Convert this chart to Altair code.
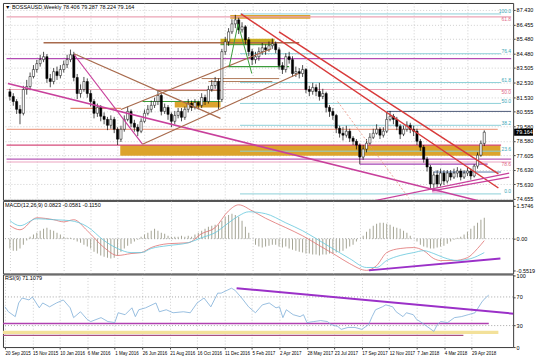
import altair as alt
import pandas as pd

# ---------------- data ----------------
START = pd.Timestamp("2015-09-20")   # week 0

TITLE = "\u25bc BOSSAUSD,Weekly  78.406 79.287 78.224 79.164"
MACD_TITLE = "MACD(12,26,9) 0.0823 -0.0581 -0.1150"
RSI_TITLE = "RSI(9) 71.1079"

OPEN = [81.90, 81.58, 81.24, 80.71, 80.44, 82.05, 82.25, 82.93, 83.40, 83.80,
        84.07, 84.27, 82.79, 82.59, 83.26, 82.99, 83.40, 83.73, 84.07, 84.40,
        82.86, 81.78, 82.05, 82.59, 81.78, 81.24, 80.44, 80.84, 80.24, 80.03,
        79.63, 80.03, 79.36, 78.69, 79.36, 80.03, 80.57, 79.77, 79.50, 79.23,
        79.90, 80.44, 80.71, 80.98, 81.24, 81.65, 80.57, 80.84, 80.37, 79.90,
        80.30, 80.57, 80.17, 80.71, 81.11, 80.84, 81.18, 80.98, 81.51, 81.24,
        82.05, 82.32, 82.59, 81.38, 84.61, 85.28, 85.95, 86.49, 86.76, 86.09,
        86.29, 85.41, 84.61, 84.07, 84.27, 84.61, 84.87, 84.74, 85.01, 85.14,
        84.74, 83.67, 83.40, 84.27, 84.07, 83.13, 83.26, 83.13, 83.40, 82.05,
        81.92, 82.19, 81.92, 81.58, 81.78, 80.84, 80.57, 80.30, 79.43, 79.09,
        78.96, 79.23, 78.76, 78.55, 78.29, 77.48, 78.02, 78.42, 78.82, 79.09,
        79.36, 78.96, 79.23, 80.03, 80.24, 80.03, 79.56, 79.03, 79.36, 79.63,
        79.36, 79.23, 78.55, 78.15, 77.34, 76.81, 75.66, 76.27, 75.66, 76.40,
        75.86, 76.40, 76.13, 76.40, 76.54, 76.13, 76.40, 76.54, 76.20, 76.87,
        77.61, 78.406]
HIGH = [82.10, 81.80, 81.40, 81.00, 82.30, 82.70, 83.20, 83.70, 84.05, 84.40,
        84.60, 84.45, 83.10, 83.50, 83.60, 83.70, 84.00, 84.40, 84.75, 84.60,
        83.10, 82.40, 82.90, 82.80, 82.00, 81.40, 81.10, 81.00, 80.50, 80.20,
        80.30, 80.20, 79.50, 79.60, 80.30, 80.90, 80.70, 80.00, 79.70, 80.10,
        80.70, 81.00, 81.30, 81.50, 82.00, 81.80, 81.10, 81.00, 80.50, 80.60,
        80.80, 80.80, 80.90, 81.40, 81.30, 81.40, 81.30, 81.80, 81.70, 82.30,
        82.70, 82.90, 82.80, 84.80, 85.60, 86.20, 86.80, 87.10, 86.90, 86.60,
        86.40, 85.60, 84.80, 84.60, 84.90, 85.20, 85.10, 85.30, 85.50, 85.30,
        84.90, 83.90, 84.50, 84.60, 84.30, 83.60, 83.50, 83.70, 83.50, 82.30,
        82.50, 82.40, 82.50, 82.10, 81.90, 81.00, 80.80, 80.40, 79.60, 79.50,
        79.60, 79.40, 78.90, 78.70, 78.40, 78.30, 78.70, 79.10, 79.40, 79.70,
        79.50, 79.50, 80.50, 80.60, 80.40, 80.20, 79.70, 79.60, 79.90, 79.80,
        79.60, 79.40, 78.70, 78.30, 77.50, 76.95, 76.50, 76.60, 76.70, 76.60,
        76.60, 76.60, 76.70, 76.80, 76.70, 76.60, 76.80, 76.70, 77.00, 77.80,
        78.60, 79.287]
LOW = [81.30, 80.95, 80.40, 79.70, 80.30, 81.70, 82.00, 82.80, 83.20, 83.60,
       83.90, 82.50, 82.20, 82.40, 82.70, 82.80, 83.20, 83.50, 83.90, 82.60,
       81.40, 81.50, 81.90, 81.50, 80.90, 80.10, 80.20, 79.90, 79.70, 79.30,
       79.40, 79.10, 78.30, 78.50, 79.20, 79.90, 79.50, 79.20, 78.90, 79.10,
       79.80, 80.30, 80.50, 80.80, 81.00, 80.30, 80.40, 80.00, 79.50, 79.70,
       80.10, 79.90, 80.00, 80.50, 80.60, 80.70, 80.70, 80.80, 81.00, 81.10,
       81.90, 82.10, 80.70, 81.20, 84.40, 85.00, 85.80, 86.20, 85.80, 85.90,
       85.10, 84.30, 83.70, 83.80, 84.00, 84.40, 84.40, 84.60, 84.80, 84.50,
       83.40, 83.10, 83.20, 83.80, 82.90, 82.90, 82.80, 82.90, 81.80, 81.60,
       81.70, 81.60, 81.30, 81.40, 80.50, 80.20, 80.00, 79.10, 78.80, 78.60,
       78.80, 78.50, 78.30, 78.00, 77.00, 77.30, 77.80, 78.30, 78.70, 79.00,
       78.70, 78.80, 79.10, 79.90, 79.70, 79.30, 78.70, 78.90, 79.20, 79.10,
       78.90, 78.30, 77.90, 77.10, 76.50, 75.30, 75.40, 75.40, 75.50, 75.60,
       75.70, 75.90, 76.00, 76.10, 75.90, 76.00, 76.20, 75.95, 76.10, 76.70,
       77.50, 78.224]
CLOSE = [81.58, 81.24, 80.71, 80.44, 82.05, 82.25, 82.93, 83.40, 83.80, 84.07,
         84.27, 82.79, 82.59, 83.26, 82.99, 83.40, 83.73, 84.07, 84.40, 82.86,
         81.78, 82.05, 82.59, 81.78, 81.24, 80.44, 80.84, 80.24, 80.03, 79.63,
         80.03, 79.36, 78.69, 79.36, 80.03, 80.57, 79.77, 79.50, 79.23, 79.90,
         80.44, 80.71, 80.98, 81.24, 81.65, 80.57, 80.84, 80.37, 79.90, 80.30,
         80.57, 80.17, 80.71, 81.11, 80.84, 81.18, 80.98, 81.51, 81.24, 82.05,
         82.32, 82.59, 81.38, 84.61, 85.28, 85.95, 86.49, 86.76, 86.09, 86.29,
         85.41, 84.61, 84.07, 84.27, 84.61, 84.87, 84.74, 85.01, 85.14, 84.74,
         83.67, 83.40, 84.27, 84.07, 83.13, 83.26, 83.13, 83.40, 82.05, 81.92,
         82.19, 81.92, 81.58, 81.78, 80.84, 80.57, 80.30, 79.43, 79.09, 78.96,
         79.23, 78.76, 78.55, 78.29, 77.48, 78.02, 78.42, 78.82, 79.09, 79.36,
         78.96, 79.23, 80.03, 80.24, 80.03, 79.56, 79.03, 79.36, 79.63, 79.36,
         79.23, 78.55, 78.15, 77.34, 76.81, 75.66, 76.27, 75.66, 76.40, 75.86,
         76.40, 76.13, 76.40, 76.54, 76.13, 76.40, 76.54, 76.20, 76.87, 77.61,
         78.41, 79.164]

PRICE_TICKS = [87.430, 86.455, 85.480, 84.480, 83.505, 82.530, 81.530, 80.555,
               79.580, 78.580, 77.605, 76.630, 75.630, 74.655]
LAST_PRICE = 79.164

MACD_HIST = [-0.41, -0.50, -0.50, -0.41, -0.25,
             -0.08, 0.08, 0.17, 0.25, 0.33, 0.41, 0.46, 0.37, 0.33, 0.25, 0.17, 0.08, 0.04, 0.04,
             -0.04, -0.12, -0.17, -0.25, -0.33, -0.41, -0.54, -0.62, -0.70, -0.75, -0.79, -0.83,
             -0.79, -0.70, -0.54, -0.41, -0.29, -0.21, -0.12, -0.04,
             0.08, 0.17, 0.25, 0.33, 0.41, 0.33, 0.25, 0.21, 0.12, 0.08, 0.08, 0.08, 0.12, 0.08,
             0.12, 0.08, 0.17, 0.25, 0.33, 0.41, 0.50, 0.54, 0.58, 0.58,
             0.75, 0.91, 0.99, 1.04, 0.99, 0.91, 0.75, 0.50, 0.25, 0.0,
             -0.25, -0.33, -0.37, -0.33, -0.29, -0.25, -0.25, -0.33, -0.37, -0.33, -0.41, -0.46,
             -0.50, -0.54, -0.58, -0.62, -0.62, -0.66, -0.66, -0.70, -0.66, -0.66, -0.62, -0.62,
             -0.58, -0.54, -0.50, -0.41, -0.33, -0.25, -0.12, 0.0,
             0.12, 0.29, 0.41, 0.54, 0.62, 0.66, 0.66, 0.62, 0.58, 0.50, 0.46, 0.41, 0.33, 0.25,
             0.12, 0.0,
             -0.12, -0.25, -0.33, -0.37, -0.41, -0.41, -0.37, -0.33, -0.29, -0.21, -0.12, -0.04, 0.04,
             0.08, 0.17, 0.29, 0.41, 0.54, 0.66, 0.79, 0.87]
MACD_W = [0, 3, 8, 13, 16, 19, 23, 28, 32, 36, 39, 42, 47, 53, 57, 61, 65, 68, 72, 76,
          82, 87, 92, 97, 101, 106, 109, 112, 116, 120, 123, 126, 128, 132, 136, 139, 141]
MACD_MAIN = [0.54, 0.37, 0.87, 0.79, 0.70, 0.79, 0.33, -0.37, -0.70, -0.62,
             -0.58, -0.37, -0.21, -0.17, 0.21, 0.46, 1.16, 1.41, 1.16, 0.85,
             0.46, 0.12, -0.29, -0.70, -1.04, -1.32, -1.12, -0.58, -0.41, -0.37,
             -0.50, -0.83, -0.91, -0.91, -0.79, -0.41, -0.08]
SIG_W = [0, 3, 8, 13, 18, 23, 28, 32, 36, 39, 42, 47, 53, 57, 61, 65, 68, 71, 76, 82,
         87, 92, 97, 101, 106, 109, 112, 116, 120, 123, 126, 129, 133, 137, 141]
MACD_SIGNAL = [0.75, 0.54, 0.83, 0.79, 0.75, 0.50, -0.08, -0.41, -0.58, -0.58,
               -0.41, -0.29, -0.17, 0.04, 0.25, 0.66, 0.95, 1.12, 1.04, 0.66,
               0.33, -0.08, -0.50, -0.83, -1.20, -1.20, -0.91, -0.70, -0.58, -0.50,
               -0.62, -0.79, -0.91, -0.83, -0.58]

RSI_W = [0, 1, 3, 4, 5, 7, 8, 10, 11, 13, 15, 17, 19, 20, 22, 24, 25, 28, 30, 32,
         33, 35, 37, 38, 39, 41, 44, 45, 47, 49, 52, 54, 56, 58, 60, 62, 63, 66, 67, 69,
         71, 73, 75, 77, 79, 80, 81, 82, 84, 86, 87, 88, 90, 92, 94, 95, 97, 98, 100, 102,
         104, 106, 107, 108, 110, 111, 113, 114, 116, 117, 119, 120, 121, 123, 125, 126, 127, 129, 131, 133,
         135, 137, 139, 140, 141]
RSI = [56.2, 49.3, 42.5, 61.6, 68.5, 65.8, 69.9, 54.8, 61.6, 56.2,
       61.6, 65.8, 54.8, 41.1, 49.3, 38.4, 35.6, 41.1, 35.6, 34.2,
       47.9, 45.2, 54.8, 42.5, 52.1, 54.8, 61.6, 49.3, 52.1, 47.9,
       49.3, 47.9, 61.6, 68.5, 56.2, 75.3, 75.3, 82.2, 79.5, 68.5,
       56.2, 47.9, 58.9, 61.6, 54.8, 56.2, 41.1, 52.1, 45.2, 42.5,
       45.2, 34.2, 35.6, 37.0, 35.6, 31.5, 28.8, 24.7, 27.4, 27.4,
       24.7, 31.5, 42.5, 52.1, 56.2, 58.9, 56.2, 49.3, 42.5, 47.9,
       45.2, 38.4, 35.6, 28.8, 21.9, 31.5, 35.6, 34.2, 41.1, 42.5,
       45.2, 47.9, 63.0, 68.5, 72.6]

# drawn objects: horizontal lines (price, from week, to week, colour, width)
HLINES = [
    (86.96, -1, 149, "#eba3b5", 1.4), (84.14, -1, 149, "#b44cb4", 1.4),
    (82.05, -1, 149, "#eba3b5", 1.2), (79.36, -1, 145, "#eda58f", 1.2),
    (78.29, -1, 146, "#d64a7a", 1.4), (77.34, -1, 149, "#b85cb8", 1.2),
    (77.15, -1, 149, "#eba3bf", 1.2), (77.01, 104, 142, "#a444b4", 1.2),
    (80.57, 112, 149, "#4c5a78", 1.0), (76.47, 126, 146, "#5a7aaa", 1.0),
    (85.21, 10, 86, "#a86a4c", 1.4), (80.77, 18, 33, "#e28c6c", 1.2),
    (82.79, 57, 80, "#b07a5a", 1.0), (82.59, 59, 78, "#b07a5a", 1.0),
    (81.98, 44, 63, "#b07a5a", 1.0), (81.24, 39.4, 62.6, "#3c9c3c", 1.2),
    (83.60, 64.6, 83, "#3c9c3c", 1.2), (85.08, 62.6, 78.6, "#3c9c3c", 1.0),
]
FIB_CYAN = [("100.0", 87.16), ("76.4", 84.47), ("61.8", 82.52), ("50.0", 81.11),
            ("38.2", 79.63), ("23.6", 77.88), ("0.0", 74.99)]
FIB_PINK = [("61.8", 86.96), ("50.0", 82.05), ("78.6", 77.15)]
# trend lines (week1, price1, week2, price2, colour, width)
SEGMENTS = [
    (-0.6, 82.45, 139.4, 74.52, "#c8409c", 1.5), (19.1, 84.40, 39.4, 78.35, "#c8409c", 1.2),
    (19.1, 84.47, 62.6, 80.10, "#a86a4c", 1.2), (39.4, 78.35, 85.8, 83.13, "#a86a4c", 1.2),
    (33.0, 80.70, 77.7, 84.81, "#a86a4c", 1.2), (68.7, 87.16, 145.2, 75.39, "#d83a3a", 1.5),
    (80.0, 85.95, 145.2, 76.34, "#d83a3a", 1.5), (108.1, 74.52, 148.4, 76.40, "#c8409c", 1.2),
    (125.5, 75.19, 148.4, 76.13, "#c8409c", 1.2), (65.2, 83.60, 67.8, 86.49, "#3c9c3c", 1.0),
    (67.8, 86.49, 71.9, 83.13, "#3c9c3c", 1.0),
]
DOTTED = [(97.4, 81.24, 118.6, 74.70, "#e89080", 0.8)]
# rectangles (week1, week2, price low, price high, colour)
BOXES = [
    (32.8, 145.8, 77.57, 78.29, "#dca32c"), (49.0, 62.6, 80.84, 81.24, "#dca32c"),
    (65.5, 89.3, 86.83, 87.09, "#dca32c"), (62.6, 78.6, 85.08, 85.48, "#c9ad22"),
    (125.5, 128.4, 75.00, 75.33, "#f3c6e6"),
]
MACD_SEG = [(106.7, -1.32, 145.8, -0.83, "#9b30c8", 2.0)]
RSI_HLINES = [(20.5, -1, 143.8, "#f3e19a", 3.5), (32.9, -1, 141, "#b040b0", 1.5),
              (16.4, -1, 133.6, "#a85080", 1.2)]
RSI_SEG = [(67.5, 82.2, 148.4, 46.6, "#9b30c8", 2.0)]

# ---------------- layout helpers ----------------
def ms(w):
    return int((START + pd.Timedelta(days=7.0 * w)).value // 1_000_000)

W = 513
FONT = "Liberation Sans"
FS = 5.5
DATE_TICKS = [ms(8 * k) for k in range(18)]


def X(bottom=False):
    if bottom:
        ax = alt.Axis(values=DATE_TICKS, format="%-d %b %Y", labelAlign="left",
                      labelOverlap=False, labelFlush=False, grid=True, ticks=True,
                      domain=False, title=None, labelFontSize=4.5, labelPadding=1)
    else:
        ax = alt.Axis(values=DATE_TICKS, labels=False, ticks=False, grid=True,
                      domain=False, title=None)
    return alt.X("t:T", scale=alt.Scale(type="utc", domain=[ms(-0.58), ms(148.1)], nice=False), axis=ax)


def YF(domain, values, fmt=None, expr=None, grid=False):
    def f(field):
        kw = dict(orient="right", values=values, grid=grid, title=None, domain=False)
        if fmt:
            kw["format"] = fmt
        if expr:
            kw["labelExpr"] = expr
        return alt.Y(f"{field}:Q", scale=alt.Scale(domain=domain, nice=False, zero=False), axis=alt.Axis(**kw))
    return f


def hline_df(rows):
    return pd.DataFrame({"p": [r[0] for r in rows], "t": [ms(r[1]) for r in rows],
                         "te": [ms(r[2]) for r in rows], "c": [r[3] for r in rows],
                         "w": [r[4] for r in rows]})


def seg_df(rows):
    return pd.DataFrame({"t": [ms(r[0]) for r in rows], "p": [r[1] for r in rows],
                         "te": [ms(r[2]) for r in rows], "pe": [r[3] for r in rows],
                         "c": [r[4] for r in rows], "w": [r[5] for r in rows]})


def title_layer(text):
    return alt.Chart(pd.DataFrame({"s": [text]})).mark_text(
        align="left", baseline="top", font=FONT, fontSize=FS, color="black"
    ).encode(x=alt.value(2), y=alt.value(2), text="s:N")


def hl_layer(rows, YY, bottom=False, dash=None):
    kw = dict(clip=True)
    if dash:
        kw["strokeDash"] = dash
    return alt.Chart(hline_df(rows)).mark_rule(**kw).encode(
        x=X(bottom), x2="te", y=YY("p"), color=alt.Color("c:N", scale=None),
        strokeWidth=alt.StrokeWidth("w:Q", scale=None))


def seg_layer(rows, YY, bottom=False, dash=None):
    kw = dict(clip=True)
    if dash:
        kw["strokeDash"] = dash
    return alt.Chart(seg_df(rows)).mark_rule(**kw).encode(
        x=X(bottom), x2="te", y=YY("p"), y2="pe", color=alt.Color("c:N", scale=None),
        strokeWidth=alt.StrokeWidth("w:Q", scale=None))


# ---------------- main price panel ----------------
YM = YF([74.587, 87.901], PRICE_TICKS, fmt=".3f", grid=True)

candles = pd.DataFrame({"t": [ms(i) for i in range(len(CLOSE))], "O": OPEN, "H": HIGH,
                        "L": LOW, "C": CLOSE})
candles["f"] = ["white" if c >= o else "black" for o, c in zip(OPEN, CLOSE)]

boxes = pd.DataFrame({"t": [ms(b[0]) for b in BOXES], "te": [ms(b[1]) for b in BOXES],
                      "p": [b[2] for b in BOXES], "pe": [b[3] for b in BOXES],
                      "c": [b[4] for b in BOXES]})
box_l = alt.Chart(boxes).mark_rect(clip=True).encode(
    x=X(), x2="te", y=YM("p"), y2="pe", color=alt.Color("c:N", scale=None))

cyan_lines = [(p, 68.4, 146, "#8cd0d8", 1.0) for _, p in FIB_CYAN]
hl_main = hl_layer(HLINES + cyan_lines, YM)
seg_main = seg_layer(SEGMENTS, YM)
dot_main = seg_layer(DOTTED, YM, dash=[2, 2])

wick = alt.Chart(candles).mark_rule(color="black", strokeWidth=0.7).encode(
    x=X(), y=YM("L"), y2="H")
body = alt.Chart(candles).mark_bar(size=2.2, stroke="black", strokeWidth=0.5).encode(
    x=X(), y=YM("O"), y2="C", fill=alt.Fill("f:N", scale=None))

cy_df = pd.DataFrame({"s": [f[0] for f in FIB_CYAN], "p": [f[1] for f in FIB_CYAN]})
pk_df = pd.DataFrame({"s": [f[0] for f in FIB_PINK], "p": [f[1] for f in FIB_PINK]})
fib_cy = alt.Chart(cy_df).mark_text(align="right", baseline="bottom", font=FONT,
                                    fontSize=FS - 0.5, color="#40a8b8", dy=0.5).encode(
    x=alt.value(W - 2), y=YM("p"), text="s:N")
fib_pk = alt.Chart(pk_df).mark_text(align="right", baseline="top", font=FONT,
                                    fontSize=FS - 0.5, color="#e06888", dy=0.5).encode(
    x=alt.value(W - 2), y=YM("p"), text="s:N")

last_df = pd.DataFrame({"p": [LAST_PRICE], "p1": [LAST_PRICE + 0.24],
                        "p2": [LAST_PRICE - 0.24], "s": [f"{LAST_PRICE:.3f}"]})
last_box = alt.Chart(last_df).mark_rect(color="black").encode(
    x=alt.value(W + 1), x2=alt.value(W + 20), y=YM("p1"), y2="p2")
last_txt = alt.Chart(last_df).mark_text(align="left", baseline="middle", font=FONT,
                                        fontSize=FS, color="white").encode(
    x=alt.value(W + 3), y=YM("p"), text="s:N")

main = alt.layer(box_l, hl_main, wick, body, seg_main, dot_main, fib_cy, fib_pk,
                 last_box, last_txt, title_layer(TITLE)).properties(width=W, height=198)

# ---------------- MACD panel ----------------
YD = YF([-1.449, 1.5746], [1.38, 0, -1.32],
        expr="datum.value > 1 ? '1.5746' : (datum.value < -1 ? '-0.5519' : '0.00')")
hist = pd.DataFrame({"t": [ms(i) for i in range(len(MACD_HIST))], "v": MACD_HIST,
                     "z": [0.0] * len(MACD_HIST)})
hist_l = alt.Chart(hist).mark_bar(size=1, color="#a4a494").encode(x=X(), y=YD("v"), y2="z")
zero_l = alt.Chart(pd.DataFrame({"v": [0.0]})).mark_rule(
    color="#909090", strokeDash=[1, 2], strokeWidth=0.8).encode(y=YD("v"))
main_df = pd.DataFrame({"t": [ms(w) for w in MACD_W], "v": MACD_MAIN})
sig_df = pd.DataFrame({"t": [ms(w) for w in SIG_W], "v": MACD_SIGNAL})
red_l = alt.Chart(main_df).mark_line(color="#e07070", strokeWidth=0.8,
                                     interpolate="monotone").encode(x=X(), y=YD("v"))
cy_l = alt.Chart(sig_df).mark_line(color="#62c6dc", strokeWidth=0.8,
                                   interpolate="monotone").encode(x=X(), y=YD("v"))
macd_seg = seg_layer(MACD_SEG, YD)
macd = alt.layer(zero_l, hist_l, red_l, cy_l, macd_seg,
                 title_layer(MACD_TITLE)).properties(width=W, height=73)

# ---------------- RSI panel ----------------
YR = YF([0, 101.4], [100, 70, 30, 0], fmt="d")
lvl_l = alt.Chart(pd.DataFrame({"v": [70, 30]})).mark_rule(
    color="#909090", strokeDash=[1, 2], strokeWidth=0.8).encode(y=YR("v"))
rsi_df = pd.DataFrame({"t": [ms(w) for w in RSI_W], "v": RSI})
rsi_l = alt.Chart(rsi_df).mark_line(color="#7eaed8", strokeWidth=0.8).encode(
    x=X(True), y=YR("v"))
rsi_hl = hl_layer(RSI_HLINES, YR, bottom=True)
rsi_seg = seg_layer(RSI_SEG, YR, bottom=True)
rsi = alt.layer(lvl_l, rsi_hl, rsi_l, rsi_seg,
                title_layer(RSI_TITLE)).properties(width=W, height=73)

chart = alt.vconcat(main, macd, rsi, spacing=1, bounds="flush").properties(
    padding={"left": 2, "top": 1, "right": 0, "bottom": 0},
    background="white",
).configure_view(stroke="#3a3a3a", strokeWidth=1).configure_axis(
    labelFont=FONT, labelFontSize=FS, labelColor="black", tickColor="#444",
    tickSize=2, labelPadding=1, gridColor="#bcbcbc", gridDash=[1, 2], gridWidth=0.7,
)

chart.save("out.html", embed_options={"renderer": "svg", "actions": False})
